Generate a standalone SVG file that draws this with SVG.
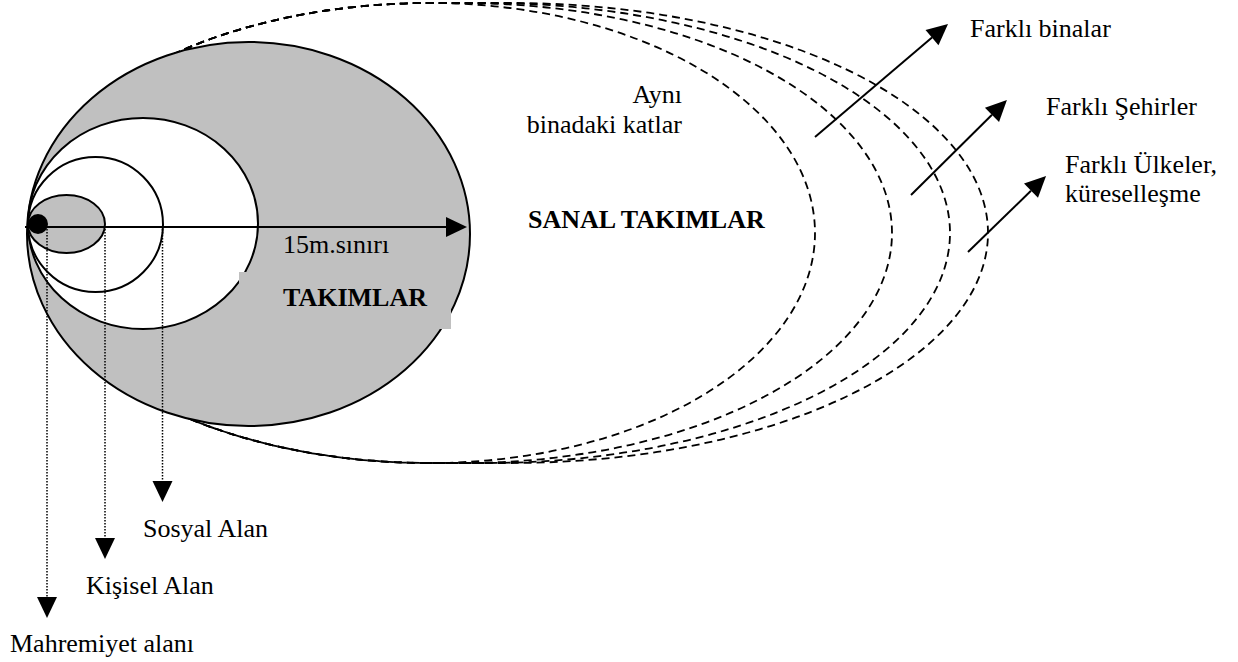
<svg xmlns="http://www.w3.org/2000/svg" width="1238" height="662" viewBox="0 0 1238 662">
<style>
text{font-family:'Liberation Serif','Times New Roman','DejaVu Serif',serif;font-size:26px;fill:#000}
.b{font-weight:bold}
.ol{stroke:#000;stroke-width:2}
.dash{fill:none;stroke:#000;stroke-width:1.8;stroke-dasharray:8 5}
.dot{fill:none;stroke:#000;stroke-width:1.5;stroke-dasharray:1.5 1.5}
.ln{fill:none;stroke:#000;stroke-width:2}
</style>
<defs>
<marker id="ah" markerUnits="userSpaceOnUse" markerWidth="22" markerHeight="22" refX="0" refY="10" orient="auto" overflow="visible">
<path d="M0,0 L21,10 L0,20 z" fill="#000"/>
</marker>
</defs>
<rect width="1238" height="662" fill="#fff"/>
<g id="virtual-zones">
<path class="dash" d="M161,60 A408,230 0 0 1 430,3 A385,230 0 0 1 815,233 A385,230 0 0 1 430,463 A408,230 0 0 1 161,406"/>
<path class="dash" d="M161,60 A408,230 0 0 1 430,3 L463,3 A429,230 0 0 1 892,233 A429,230 0 0 1 463,463 L430,463 A408,230 0 0 1 161,406"/>
<path class="dash" d="M161,60 A408,230 0 0 1 430,3 L487,3 A463,230 0 0 1 950,233 A463,230 0 0 1 487,463 L430,463 A408,230 0 0 1 161,406"/>
<path class="dash" d="M161,60 A408,230 0 0 1 430,3 L511,3 A477,230 0 0 1 988,233 A477,230 0 0 1 511,463 L430,463 A408,230 0 0 1 161,406"/>
</g>
<g id="teams">
<ellipse class="ol" cx="248.5" cy="234" rx="221.5" ry="192" fill="#c0c0c0"/>
</g>
<g id="social">
<ellipse class="ol" cx="143" cy="223.5" rx="115" ry="105.5" fill="#fff"/>
</g>
<g id="personal">
<ellipse class="ol" cx="95.5" cy="224.5" rx="67.5" ry="67.5" fill="#fff"/>
</g>
<g id="intimate">
<ellipse class="ol" cx="66.5" cy="224" rx="38.5" ry="29" fill="#c0c0c0"/>
</g>
<g id="teams-label">
<rect x="239" y="272" width="212" height="57" fill="#c0c0c0"/>
<text x="283" y="253" font-family="Liberation Serif, serif">15m.sınırı</text>
<text class="b" x="283" y="306" font-family="Liberation Serif, serif">TAKIMLAR</text>
</g>
<g id="connectors">
<line class="ln" x1="25" y1="227" x2="446" y2="227" marker-end="url(#ah)"/>
<line class="dot" x1="47" y1="229" x2="47" y2="597" marker-end="url(#ah)"/>
<line class="dot" x1="105" y1="229" x2="105" y2="538" marker-end="url(#ah)"/>
<line class="dot" x1="162.5" y1="229" x2="162.5" y2="481" marker-end="url(#ah)"/>
<line class="ln" x1="815" y1="137" x2="932" y2="37.6" marker-end="url(#ah)"/>
<line class="ln" x1="911" y1="195" x2="992" y2="114.8" marker-end="url(#ah)"/>
<line class="ln" x1="968" y1="252" x2="1031" y2="190.7" marker-end="url(#ah)"/>
</g>
<g id="self">
<circle cx="38" cy="224" r="10" fill="#000"/>
</g>
<g id="labels">
<text x="682" y="103" text-anchor="end">Aynı</text>
<text x="682" y="133" text-anchor="end">binadaki katlar</text>
<text class="b" x="528" y="228">SANAL TAKIMLAR</text>
<text x="970" y="37">Farklı binalar</text>
<text x="1046" y="115">Farklı Şehirler</text>
<text x="1065" y="173">Farklı Ülkeler,</text>
<text x="1065" y="202">küreselleşme</text>
<text x="143" y="537">Sosyal Alan</text>
<text x="86" y="594">Kişisel Alan</text>
<text x="10" y="652">Mahremiyet alanı</text>
</g>
</svg>
